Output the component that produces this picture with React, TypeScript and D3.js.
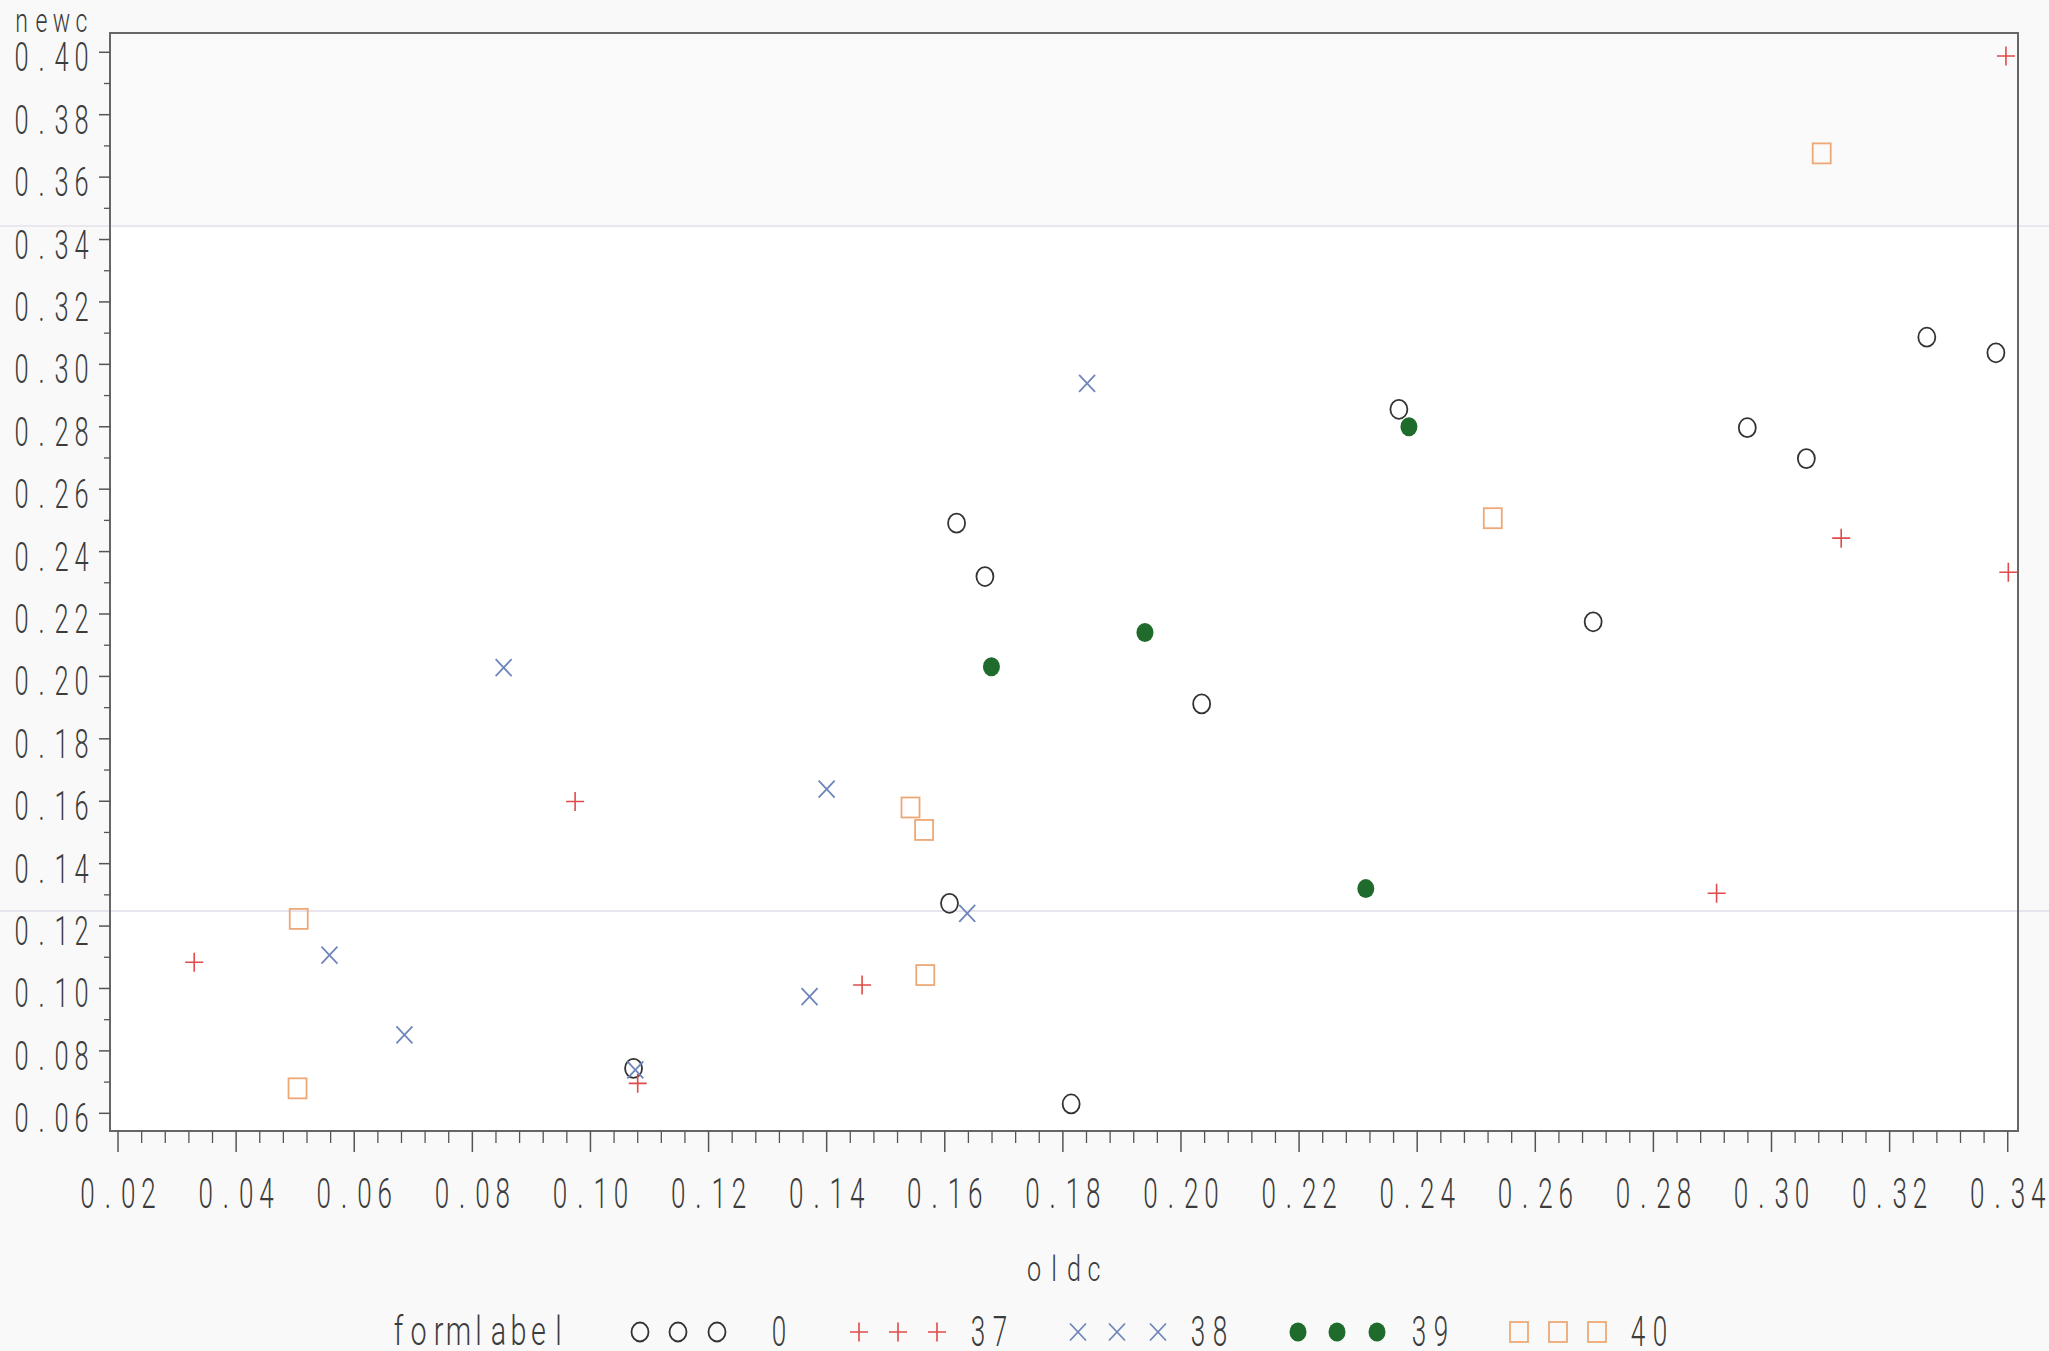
import React from "react";
import * as d3 from "d3";

// ---- data ----
const formLabels = ["0", "37", "38", "39", "40"];

const oldc0 = [0.1073, 0.1620, 0.1668, 0.1608, 0.1814, 0.2035, 0.2369, 0.2698, 0.2959, 0.3059, 0.3263, 0.3380];
const newc0 = [0.0744, 0.2491, 0.2320, 0.1273, 0.0630, 0.1912, 0.2856, 0.2175, 0.2797, 0.2698, 0.3087, 0.3037];

const oldc37 = [0.0329, 0.0974, 0.1080, 0.1460, 0.2907, 0.3118, 0.3397, 0.3401];
const newc37 = [0.1084, 0.1599, 0.0696, 0.1011, 0.1305, 0.2443, 0.3988, 0.2334];

const oldc38 = [0.0558, 0.0685, 0.0853, 0.1076, 0.1371, 0.1400, 0.1638, 0.1841];
const newc38 = [0.1107, 0.0851, 0.2028, 0.0739, 0.0974, 0.1639, 0.1241, 0.2939];

const oldc39 = [0.1679, 0.1939, 0.2313, 0.2386];
const newc39 = [0.2031, 0.2141, 0.1320, 0.2800];

const oldc40 = [0.0504, 0.0506, 0.1542, 0.1565, 0.1567, 0.2528, 0.3085];
const newc40 = [0.0680, 0.1223, 0.1580, 0.1508, 0.1043, 0.2507, 0.3676];

const xTickValues = [0.02, 0.04, 0.06, 0.08, 0.10, 0.12, 0.14, 0.16, 0.18, 0.20, 0.22, 0.24, 0.26, 0.28, 0.30, 0.32, 0.34];
const xTickLabels = ["0.02", "0.04", "0.06", "0.08", "0.10", "0.12", "0.14", "0.16", "0.18", "0.20", "0.22", "0.24", "0.26", "0.28", "0.30", "0.32", "0.34"];
const yTickValues = [0.06, 0.08, 0.10, 0.12, 0.14, 0.16, 0.18, 0.20, 0.22, 0.24, 0.26, 0.28, 0.30, 0.32, 0.34, 0.36, 0.38, 0.40];
const yTickLabels = ["0.06", "0.08", "0.10", "0.12", "0.14", "0.16", "0.18", "0.20", "0.22", "0.24", "0.26", "0.28", "0.30", "0.32", "0.34", "0.36", "0.38", "0.40"];

const xLabel = "oldc";
const yLabel = "newc";
const legendTitle = "formlabel";

// ---- layout ----
const W = 2049;
const H = 1351;
const PL = 110, PR = 2018, PT = 33, PB = 1131;

const x = d3.scaleLinear().domain([0.01864, 0.34174]).range([PL, PR]);
const y = d3.scaleLinear().domain([0.05433, 0.40618]).range([PB, PT]);

const FONT = "Roboto, 'DejaVu Sans', sans-serif";
const TXT = "#3c3c3c";

const COLORS = ["#333333", "#e04a4a", "#6f86bb", "#1e6b2c", "#eea877"];

function Marker({ kind, cx, cy }: { kind: number; cx: number; cy: number }) {
  const c = COLORS[kind];
  if (kind === 0)
    return <ellipse cx={cx} cy={cy} rx={8.5} ry={9.5} fill="none" stroke={c} strokeWidth={1.8} />;
  if (kind === 1)
    return (
      <path d={`M${cx - 9},${cy} H${cx + 9} M${cx},${cy - 9.5} V${cy + 9.5}`} stroke={c} strokeWidth={1.6} fill="none" />
    );
  if (kind === 2)
    return (
      <path d={`M${cx - 8},${cy - 8.5} L${cx + 8},${cy + 8.5} M${cx - 8},${cy + 8.5} L${cx + 8},${cy - 8.5}`} stroke={c} strokeWidth={1.8} fill="none" />
    );
  if (kind === 3) return <ellipse cx={cx} cy={cy} rx={8.5} ry={9.5} fill={c} />;
  return <rect x={cx - 9} y={cy - 10} width={18} height={20} fill="none" stroke={c} strokeWidth={1.8} />;
}

// monospaced-cell text imitating the narrow SAS simplex font:
// each glyph is centred in a cell of `step` px, glyphs squeezed horizontally.
function T({ cx, y: ty, step, size, sx, children }: any) {
  const s: string = String(children);
  const n = s.length;
  const sc = sx ?? 0.62;
  const xs = Array.from(s).map((_, i) => ((i - (n - 1) / 2) * step) / sc);
  return (
    <g transform={`translate(${cx},${ty}) scale(${sc},1)`}>
      <text
        x={xs.join(" ")}
        y={0}
        fontFamily={FONT}
        fontWeight={300}
        fontSize={size}
        fill={TXT}
        textAnchor="middle"
      >
        {s}
      </text>
    </g>
  );
}

export default function App() {
  const series = [
    { xs: oldc0, ys: newc0 },
    { xs: oldc37, ys: newc37 },
    { xs: oldc38, ys: newc38 },
    { xs: oldc39, ys: newc39 },
    { xs: oldc40, ys: newc40 },
  ];

  const xMinor = d3.range(0.02, 0.3401, 0.004).filter((v) => Math.abs(v / 0.02 - Math.round(v / 0.02)) > 1e-6);
  const yMinor = d3.range(0.07, 0.40, 0.02);

  // legend positions
  const legendY = 1332;
  const legendGroups = [
    { m: [640, 678, 717], lx: 779 },
    { m: [859, 898, 937], lx: 989 },
    { m: [1078, 1117, 1158], lx: 1209 },
    { m: [1298, 1337, 1377], lx: 1430 },
    { m: [1519, 1558, 1597], lx: 1649 },
  ];

  return (
    <svg
      width={W}
      height={H}
      style={{ position: "absolute", left: 0, top: 0, background: "#fafafa" }}
    >
      {/* scan-like background tones */}
      <rect x={0} y={0} width={W} height={H} fill="#f9f9f9" />
      <rect x={PL} y={PT} width={PR - PL} height={PB - PT} fill="#ffffff" />
      <rect x={PL} y={PT} width={PR - PL} height={195} fill="#fafafa" />
      <line x1={0} x2={W} y1={226} y2={226} stroke="#e6e0ea" strokeWidth={1.5} />
      <line x1={0} x2={W} y1={911} y2={911} stroke="#e2dcea" strokeWidth={1.5} />

      {/* frame */}
      <rect x={PL} y={PT} width={PR - PL} height={PB - PT} fill="none" stroke="#666" strokeWidth={2} />

      {/* y axis ticks */}
      {yTickValues.map((v, i) => (
        <g key={"yt" + i}>
          <line x1={PL - 11} x2={PL} y1={y(v)} y2={y(v)} stroke="#555" strokeWidth={1.5} />
          <T cx={51.5} y={y(v) + 19} step={20} size={41}>
            {yTickLabels[i]}
          </T>
        </g>
      ))}
      {yMinor.map((v, i) => (
        <line key={"ym" + i} x1={PL - 6} x2={PL} y1={y(v)} y2={y(v)} stroke="#555" strokeWidth={1.3} />
      ))}

      {/* x axis ticks */}
      {xTickValues.map((v, i) => (
        <g key={"xt" + i}>
          <line x1={x(v)} x2={x(v)} y1={PB} y2={PB + 21} stroke="#555" strokeWidth={1.5} />
          <T cx={x(v)} y={1208} step={20.3} size={42}>
            {xTickLabels[i]}
          </T>
        </g>
      ))}
      {xMinor.map((v, i) => (
        <line key={"xm" + i} x1={x(v)} x2={x(v)} y1={PB} y2={PB + 12} stroke="#555" strokeWidth={1.3} />
      ))}

      {/* axis labels */}
      <T cx={51.5} y={32} step={20} size={33} sx={0.7}>
        {yLabel}
      </T>
      <T cx={(PL + PR) / 2} y={1281} step={20} size={36} sx={0.7}>
        {xLabel}
      </T>

      {/* points */}
      {series.map((s, k) =>
        s.xs.map((xv, i) => <Marker key={`p${k}-${i}`} kind={k} cx={x(xv)} cy={y(s.ys[i])} />)
      )}

      {/* legend */}
      <T cx={478.5} y={1345} step={20} size={41} sx={0.7}>
        {legendTitle}
      </T>
      {legendGroups.map((g, k) => (
        <g key={"lg" + k}>
          {g.m.map((mx, j) => (
            <Marker key={j} kind={k} cx={mx} cy={legendY} />
          ))}
          <T cx={g.lx} y={1346} step={22} size={42}>
            {formLabels[k]}
          </T>
        </g>
      ))}
    </svg>
  );
}
